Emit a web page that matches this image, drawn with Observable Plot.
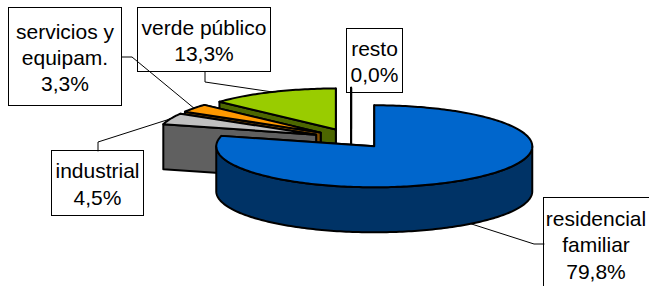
<!DOCTYPE html>
<html><head><meta charset="utf-8">
<script src="https://cdn.jsdelivr.net/npm/d3@7"></script>
<script src="https://cdn.jsdelivr.net/npm/@observablehq/plot@0.6"></script>
<style>body{margin:0;background:#fff;} svg{display:block}</style>
</head><body><div id="chart"></div>
<script>
// ---- data ----
const categories = ["residencial familiar", "industrial", "servicios y equipam.", "verde público", "resto"];
const labelLines = [["residencial", "familiar"], ["industrial"], ["servicios y", "equipam."], ["verde público"], ["resto"]];
const values = [79.8, 4.5, 3.3, 13.3, 0.0];
const topColors = ["#0066CC", "#C0C0C0", "#FF9900", "#99CC00", "#9999FF"];
const sideColors = ["#003366", "#606060", "#7F4C00", "#4C6600", "#4C4C80"];

// ---- layout ----
const W = 649, H = 286;
const pie = {cx: 350.6, cy: 138, rx: 158, ry: 41, depth: 45, explode: 0.24};
const labelBoxes = [[543.5, 197.5, 660, 300], [51.5, 150.5, 143.5, 215.5], [8.5, 7.5, 121.5, 105.5], [137.5, 7.5, 270.5, 71.5], [346.5, 28.5, 402.5, 92.5]];
const labelCenters = [[595.5, 243.5], [97, 182.5], [64.5, 56], [203.5, 39], [374, 60]];
const leaderElbows = [[[543.5, 243.5], [533.5, 243.5]], [[97.5, 150.5], [97.5, 141.5]], [[121.5, 56.5], [131.5, 56.5]], [[204.5, 71.5], [204.5, 81.5]], null];

// ---- geometry from values ----
const TAU = 2 * Math.PI;
const total = d3.sum(values);
let acc = 0;
const slices = values.map((v, i) => {
  const a0 = acc / total * TAU; acc += v; const a1 = acc / total * TAU;
  const mid = (a0 + a1) / 2;
  return {i, a0, a1, mid,
    cx: pie.cx + pie.explode * pie.rx * Math.sin(mid),
    cy: pie.cy - pie.explode * pie.ry * Math.cos(mid)};
});
const P = (s, a, z = 0) => ({x: s.cx + pie.rx * Math.sin(a), y: s.cy - pie.ry * Math.cos(a) + z * pie.depth});
const C = (s, z = 0) => ({x: s.cx, y: s.cy + z * pie.depth});
const arc = (s, b0, b1, z) => {
  const n = Math.max(2, Math.ceil(Math.abs(b1 - b0) / 0.02));
  return d3.range(n + 1).map(k => P(s, b0 + (b1 - b0) * k / n, z));
};
const radial = (s, a) => [C(s, 0), P(s, a, 0), P(s, a, 1), C(s, 1)];

const faces = [];
[...slices].sort((p, q) => p.cy - q.cy).forEach(s => {
  const side = sideColors[s.i], top = topColors[s.i];
  const startFront = Math.sin(s.a0) < 0, endFront = Math.sin(s.a1) > 0;
  if (!startFront) faces.push({pts: radial(s, s.a0), fill: side});
  if (!endFront) faces.push({pts: radial(s, s.a1), fill: side});
  const b0 = Math.max(s.a0, Math.PI / 2), b1 = Math.min(s.a1, 3 * Math.PI / 2);
  if (b1 > b0) faces.push({pts: [...arc(s, b0, b1, 0), ...arc(s, b1, b0, 1)], fill: side});
  if (startFront) faces.push({pts: radial(s, s.a0), fill: side});
  if (endFront) faces.push({pts: radial(s, s.a1), fill: side});
  faces.push({pts: [C(s, 0), ...arc(s, s.a0, s.a1, 0)], fill: top});
});

// leader targets: rim at mid-angle (bottom edge if on the front half)
const leaders = slices.map(s => {
  if (!leaderElbows[s.i]) return null;
  const front = Math.cos(s.mid) < 0;
  const end = P(s, s.mid, front ? 1 : 0);
  return [...leaderElbows[s.i].map(([x, y]) => ({x, y})), end];
}).filter(Boolean);

const fmt = v => v.toFixed(1).replace(".", ",") + "%";
const labels = values.map((v, i) => ({
  x: labelCenters[i][0], y: labelCenters[i][1],
  text: [...labelLines[i], fmt(v)].join("\n")
}));
const boxes = labelBoxes.map(([x1, y1, x2, y2]) => ({x1, y1, x2, y2}));

const chart = Plot.plot({
  width: W, height: H, margin: 0,
  x: {domain: [0, W], axis: null},
  y: {domain: [0, H], reverse: true, axis: null},
  style: {background: "#fff", overflow: "hidden"},
  marks: [
    Plot.rect(boxes, {x1: "x1", x2: "x2", y1: "y1", y2: "y2", fill: "#fff", stroke: "#000", strokeWidth: 1, clip: true}),
    ...leaders.map(l => Plot.line(l, {x: "x", y: "y", stroke: "#000", strokeWidth: 1})),
    ...faces.map(f => Plot.line(f.pts, {x: "x", y: "y", fill: f.fill, stroke: "#000", strokeWidth: 2, strokeLinejoin: "round", curve: "linear-closed"})),
    Plot.text(labels, {x: "x", y: "y", text: "text", fontSize: 21, fontFamily: "Liberation Sans, Arial, sans-serif", lineAnchor: "middle", textAnchor: "middle", lineHeight: 1.25, fill: "#000"})
  ]
});
document.getElementById("chart").appendChild(chart);
</script>
</body></html>
